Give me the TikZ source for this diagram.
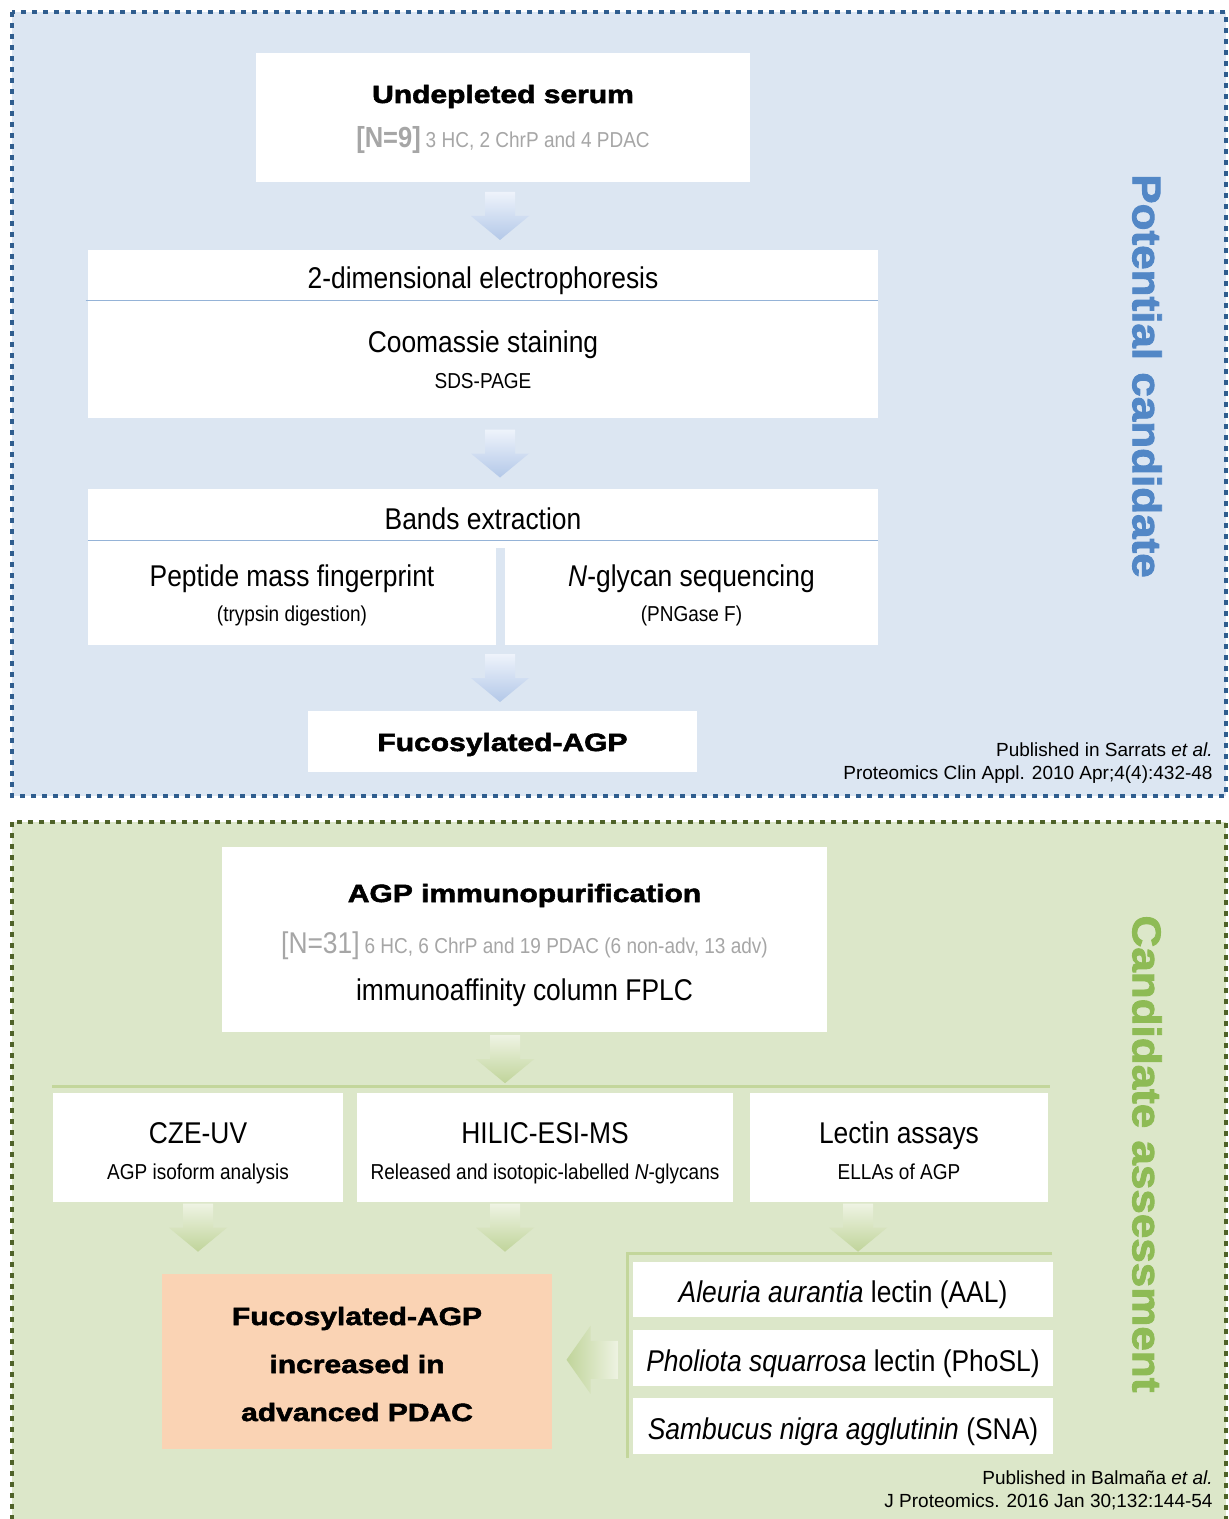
\documentclass[tikz,border=0pt]{standalone}
\usepackage{fontspec}
\setmainfont{Liberation Sans}
\newfontfamily\condfont[FakeStretch=0.88]{Liberation Sans}
\newfontfamily\heavyfont[FakeStretch=1.2,FakeBold=2.2]{Liberation Sans Bold}
\newfontfamily\sidefont[FakeStretch=1.1,FakeBold=2.2]{Liberation Sans Bold}
\usetikzlibrary{calc}

\definecolor{panelBlue}{HTML}{DCE6F2}
\definecolor{panelGreen}{HTML}{DCE7C9}
\definecolor{dotBlue}{HTML}{2F5D8E}
\definecolor{dotGreen}{HTML}{4F6228}
\definecolor{ruleBlue}{HTML}{95B3D7}
\definecolor{ruleGreen}{HTML}{C3D69B}
\definecolor{arrBlueTop}{HTML}{EEF3FB}
\definecolor{arrBlueBot}{HTML}{B3C8E8}
\definecolor{arrGreenTop}{HTML}{EEF3E3}
\definecolor{arrGreenBot}{HTML}{C0D49A}
\definecolor{resultFill}{HTML}{FAD3B4}
\definecolor{sideBlue}{HTML}{5287C6}
\definecolor{sideGreen}{HTML}{8EBB55}
\definecolor{greyText}{HTML}{A6A6A6}

\tikzset{
  box/.style={fill=white, inner sep=0pt},
  boxtxt/.style={font=\condfont\fontsize{15}{18}\selectfont, anchor=base, inner sep=0pt},
  subtxt/.style={font=\condfont\fontsize{10.8}{13}\selectfont, anchor=base, inner sep=0pt},
  heavytxt/.style={font=\heavyfont\fontsize{12.5}{15}\selectfont, anchor=base, inner sep=0pt},
  reftxt/.style={font=\fontsize{9.5}{11}\selectfont, anchor=base east, inner sep=0pt},
  sidetxt/.style={font=\sidefont\fontsize{20}{24}\selectfont, rotate=-90, inner sep=0pt},
  panel/.style={line width=2.2pt, dash pattern=on 2.5pt off 3pt},
  pics/downarr/.style={code={
    \shade[top color=#1Top, bottom color=#1Bot] (-15,-24) -- (15,-24) -- (15,0) -- (29,0) -- (0,24) -- (-29,0) -- (-15,0) -- cycle;}},
  pics/leftarr/.style={code={
    \shade[left color=#1Bot, right color=#1Top] (26,-19) -- (26,19) -- (-2,19) -- (-2,34) -- (-26,0) -- (-2,-34) -- (-2,-19) -- cycle;}},
}

\begin{document}
\begin{tikzpicture}[x=0.5pt, y=-0.5pt]
  \useasboundingbox (0,0) rectangle (1228,1519);
  \clip (0,0) rectangle (1228,1519);

  % panels
  \fill[panelBlue] (12,12) rectangle (1226,796);
  \draw[panel, dotBlue] (12,12) rectangle (1226,796);
  \fill[panelGreen] (12,822) rectangle (1226,1560);
  \draw[panel, dotGreen] (12,822) rectangle (1226,1560);

  % --- potential candidate ---
  \node[box, minimum width=247pt, minimum height=64.5pt] (serum) at (503,117.5) {};
  \node[heavytxt] (serum-t) at (503,103) {Undepleted serum};
  \node[anchor=base, inner sep=0pt, text=greyText, font=\condfont] (serum-n) at (503,148)
    {{\bfseries\fontsize{14.5}{17}\selectfont [N=9]} {\fontsize{10.8}{13}\selectfont 3 HC, 2 ChrP and 4 PDAC}};

  \node[box, minimum width=395pt, minimum height=84pt] (elec) at (483,334) {};
  \draw[ruleBlue, line width=0.8pt] ($(elec.north west)+(-2,51)$) -- ($(elec.north east)+(0,51)$);
  \node[boxtxt] (elec-t) at (483,289) {2-dimensional electrophoresis};
  \node[boxtxt] (stain-t) at (483,352) {Coomassie staining};
  \node[subtxt] (stain-s) at (483,388) {SDS-PAGE};

  \node[box, minimum width=395pt, minimum height=29.5pt] (bands) at (483,518.5) {};
  \node[box, minimum width=204pt, minimum height=48.5pt] (pmf) at (292,596.5) {};
  \node[box, minimum width=186.5pt, minimum height=48.5pt] (ngly) at (691.5,596.5) {};
  \draw[ruleBlue, line width=0.8pt] ($(bands.north west)+(0,52)$) -- ($(bands.north east)+(0,52)$);
  \node[boxtxt] (bands-t) at (483,529) {Bands extraction};
  \node[boxtxt] (pmf-t) at (292,586) {Peptide mass fingerprint};
  \node[subtxt] (pmf-s) at (292,621) {(trypsin digestion)};
  \node[boxtxt] (ngly-t) at (691.5,586) {\textit{N}-glycan sequencing};
  \node[subtxt] (ngly-s) at (691.5,621) {(PNGase F)};

  \node[box, minimum width=194.5pt, minimum height=30.5pt] (fuco) at (502.5,741.5) {};
  \node[heavytxt] (fuco-t) at (502.5,751) {Fucosylated-AGP};

  \pic at ($(serum.south -| 500,0)!.5!(elec.north -| 500,0)$) {downarr=arrBlue};
  \pic at ($(elec.south -| 500,0)!.5!(bands.north -| 500,0)$) {downarr=arrBlue};
  \pic at ($(pmf.south -| 500,0)!.5!(fuco.north -| 500,0)$) {downarr=arrBlue};

  \node[sidetxt, text=sideBlue] (side1) at (1147,376) {Potential candidate};
  \node[reftxt] (ref1a) at (1213,756) {Published in Sarrats \textit{et al.}};
  \node[reftxt] (ref1b) at (1213,779) {Proteomics Clin Appl. 2010 Apr;4(4):432-48};

  % --- candidate assessment ---
  \node[box, minimum width=302.5pt, minimum height=92.5pt] (agp) at (524.5,939.5) {};
  \node[heavytxt] (agp-t) at (524.5,902) {AGP immunopurification};
  \node[anchor=base, inner sep=0pt, text=greyText, font=\condfont] (agp-n) at (524.5,953)
    {{\fontsize{15}{18}\selectfont [N=31]} {\fontsize{10.8}{13}\selectfont 6 HC, 6 ChrP and 19 PDAC (6 non-adv, 13 adv)}};
  \node[boxtxt] (agp-s) at (524.5,1000) {immunoaffinity column FPLC};

  \coordinate (splitL) at (52,1086);
  \coordinate (splitR) at (1050,1086);
  \draw[ruleGreen, line width=1.5pt] (splitL) -- (splitR);
  \pic at ($(agp.south -| 505,0)!.5!(splitL -| 505,0)$) {downarr=arrGreen};

  \node[box, minimum width=145pt, minimum height=54.5pt] (cze) at (198,1147.5) {};
  \node[box, minimum width=188pt, minimum height=54.5pt] (hilic) at (545,1147.5) {};
  \node[box, minimum width=149pt, minimum height=54.5pt] (lectin) at (899,1147.5) {};
  \node[boxtxt] (cze-t) at (198,1143) {CZE-UV};
  \node[subtxt] (cze-s) at (198,1179) {AGP isoform analysis};
  \node[boxtxt] (hilic-t) at (545,1143) {HILIC-ESI-MS};
  \node[subtxt] (hilic-s) at (545,1179) {Released and isotopic-labelled \textit{N}-glycans};
  \node[boxtxt] (lectin-t) at (899,1143) {Lectin assays};
  \node[subtxt] (lectin-s) at (899,1179) {ELLAs of AGP};

  \coordinate (brkT) at (627,1253);
  \coordinate (brkR) at (1052,1253);
  \coordinate (brkB) at (627,1458);
  \draw[ruleGreen, line width=1.5pt] (brkR) -- (brkT) -- (brkB);

  \pic at ($(cze.south)!.5!(brkT -| cze.south)$) {downarr=arrGreen};
  \pic at ($(hilic.south -| 505,0)!.5!(brkT -| 505,0)$) {downarr=arrGreen};
  \pic at ($(lectin.south -| 858,0)!.5!(brkT -| 858,0)$) {downarr=arrGreen};

  \node[box, minimum width=210pt, minimum height=27.5pt] (aal) at (843,1289.5) {};
  \node[box, minimum width=210pt, minimum height=28pt] (phosl) at (843,1358) {};
  \node[box, minimum width=210pt, minimum height=28pt] (sna) at (843,1426) {};
  \node[boxtxt] (aal-t) at (843,1302) {\textit{Aleuria aurantia} lectin (AAL)};
  \node[boxtxt] (phosl-t) at (843,1371) {\textit{Pholiota squarrosa} lectin (PhoSL)};
  \node[boxtxt] (sna-t) at (843,1439) {\textit{Sambucus nigra agglutinin} (SNA)};

  \node[fill=resultFill, inner sep=0pt, minimum width=195pt, minimum height=87.5pt] (result) at (357,1361.5) {};
  \node[heavytxt] (result-a) at (357,1325) {Fucosylated-AGP};
  \node[heavytxt] (result-b) at (357,1373) {increased in};
  \node[heavytxt] (result-c) at (357,1421) {advanced PDAC};

  \pic at ($(result.east)!.5!(phosl.west)$) {leftarr=arrGreen};

  \node[sidetxt, text=sideGreen] (side2) at (1147,1154) {Candidate assessment};
  \node[reftxt] (ref2a) at (1213,1484) {Published in Balmaña \textit{et al.}};
  \node[reftxt] (ref2b) at (1213,1507) {J Proteomics. 2016 Jan 30;132:144-54};
\end{tikzpicture}
\end{document}
